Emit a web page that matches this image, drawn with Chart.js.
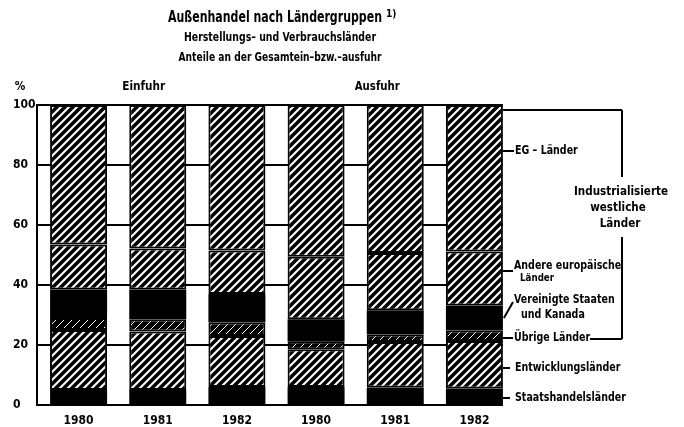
<!DOCTYPE html>
<html lang="de">
<head>
<meta charset="utf-8">
<title>Außenhandel nach Ländergruppen</title>
<script src="https://cdn.jsdelivr.net/npm/chart.js@4.4.1/dist/chart.umd.min.js"></script>
<style>
  html, body { margin: 0; padding: 0; background: #fff; }
</style>
</head>
<body>
<canvas id="tradeChart" width="684" height="427"></canvas>
<script>
// categories: three years of imports (Einfuhr), then three of exports (Ausfuhr)
const years = ['1980', '1981', '1982', '1980', '1981', '1982'];
const yTicks = [0, 20, 40, 60, 80, 100];

// shares in % of total imports / exports, stacked from the bottom up
const staatshandel = [5.0, 5.0, 6.0, 6.0, 5.8, 5.5];
const entwicklung  = [20.0, 19.5, 17.0, 12.6, 15.2, 15.8];
const uebrige      = [4.0, 4.0, 4.5, 2.5, 2.5, 3.5];
const usaKanada    = [9.5, 10.0, 9.5, 7.5, 8.1, 8.4];
const andereEuropa = [15.0, 13.7, 14.5, 20.8, 19.1, 18.0];
const egLaender    = [46.5, 47.8, 48.5, 50.6, 49.3, 48.8];

const FONT = "'Liberation Sans Narrow', 'DejaVu Sans Condensed', 'Liberation Sans', sans-serif";

const canvas = document.getElementById('tradeChart');
const ctx = canvas.getContext('2d');

// black ground with white "/" stripes, like the printed hatching
function makeHatch(gap, lineW) {
    const c = document.createElement('canvas');
    c.width = gap;
    c.height = gap;
    const g = c.getContext('2d');
    g.fillStyle = '#000';
    g.fillRect(0, 0, gap, gap);
    g.strokeStyle = '#fff';
    g.lineWidth = lineW;
    g.beginPath();
    g.moveTo(0, gap); g.lineTo(gap, 0);
    g.moveTo(-gap / 2, gap / 2); g.lineTo(gap / 2, -gap / 2);
    g.moveTo(gap / 2, gap * 1.5); g.lineTo(gap * 1.5, gap / 2);
    g.stroke();
    return ctx.createPattern(c, 'repeat');
}

const hatch = makeHatch(8, 2.1);
const sparseHatch = makeHatch(8, 1);

function line(c, x1, y1, x2, y2) {
    c.beginPath();
    c.moveTo(x1, y1);
    c.lineTo(x2, y2);
    c.stroke();
}

// bold text, squeezed horizontally to look like the condensed print type
function text(c, str, x, y, size, squeeze, align) {
    c.font = 'bold ' + size + 'px ' + FONT;
    c.save();
    c.translate(x, y);
    c.scale(squeeze, 1);
    c.textAlign = align || 'left';
    c.fillText(str, 0, 0);
    c.restore();
}

// same, but squeezed to a given printed width
function fitText(c, str, x, y, size, width, align) {
    c.font = 'bold ' + size + 'px ' + FONT;
    text(c, str, x, y, size, Math.min(1, width / c.measureText(str).width), align);
}

function lastBarRight(chart) {
    const bar = chart.getDatasetMeta(0).data[years.length - 1];
    return bar.x + bar.width / 2;
}

const decorations = {
    id: 'decorations',
    beforeDatasetsDraw(chart) {
        const { ctx, chartArea, scales: { y } } = chart;
        const right = lastBarRight(chart);
        const axisX = chartArea.left - 2;
        ctx.save();
        ctx.strokeStyle = '#000';
        ctx.lineWidth = 2;
        yTicks.forEach(v => {
            const py = Math.round(y.getPixelForValue(v));
            line(ctx, axisX - 1, py, right, py);
        });
        line(ctx, axisX, chartArea.top - 1, axisX, chartArea.bottom + 1);
        ctx.restore();
    },
    afterDraw(chart) {
        const { ctx, scales: { x } } = chart;
        const r = lastBarRight(chart);
        ctx.save();
        ctx.fillStyle = '#000';
        ctx.strokeStyle = '#000';
        ctx.textBaseline = 'middle';

        // titles
        fitText(ctx, 'Außenhandel nach Ländergruppen', 168, 18, 15, 214);
        fitText(ctx, '1)', 386, 14, 10, 11);
        fitText(ctx, 'Herstellungs– und Verbrauchsländer', 280, 38, 12, 192, 'center');
        fitText(ctx, 'Anteile an der Gesamtein–bzw.–ausfuhr', 280, 58, 12, 203, 'center');

        text(ctx, '%', 20, 87, 13, 0.9, 'center');
        fitText(ctx, 'Einfuhr', x.getPixelForValue(1) - 14, 87, 13, 43, 'center');
        fitText(ctx, 'Ausfuhr', x.getPixelForValue(4) - 18, 87, 13, 45, 'center');

        // series labels with leader lines
        const k = 0.88;
        ctx.lineWidth = 2;
        line(ctx, r, 151, 514, 151);
        text(ctx, 'EG – Länder', 515, 151, 12, k);
        line(ctx, r, 271, 513, 271);
        text(ctx, 'Andere europäische', 514, 266, 12, k);
        text(ctx, 'Länder', 520, 278, 11, k);
        line(ctx, r + 1, 318, 513, 302);
        text(ctx, 'Vereinigte Staaten', 514, 300, 12, k);
        text(ctx, 'und Kanada', 521, 315, 12, k);
        line(ctx, r, 338, 513, 338);
        text(ctx, 'Übrige Länder', 514, 338, 12, k);
        line(ctx, r, 368, 510, 368);
        text(ctx, 'Entwicklungsländer', 515, 368, 12, k);
        line(ctx, r, 398, 510, 398);
        text(ctx, 'Staatshandelsländer', 515, 398, 12, k);

        // bracket for the western industrial countries
        line(ctx, r, 110, 622, 110);
        line(ctx, 622, 110, 622, 177);
        line(ctx, 622, 237, 622, 339);
        line(ctx, 590, 339, 622, 339);
        text(ctx, 'Industrialisierte', 621, 192, 13, 0.89, 'center');
        text(ctx, 'westliche', 618, 208, 13, 0.89, 'center');
        text(ctx, 'Länder', 620, 224, 13, 0.89, 'center');
        ctx.restore();
    }
};

function segment(label, data, fill, framed) {
    return {
        label: label,
        data: data,
        backgroundColor: fill,
        borderColor: '#000',
        borderWidth: framed ? 2 : 0,
        borderSkipped: false,
        barPercentage: 0.72,
        categoryPercentage: 1.0
    };
}

new Chart(ctx, {
    type: 'bar',
    data: {
        labels: years,
        datasets: [
            segment('Staatshandelsländer', staatshandel, '#000', false),
            segment('Entwicklungsländer', entwicklung, hatch, true),
            segment('Übrige Länder', uebrige, sparseHatch, true),
            segment('Vereinigte Staaten und Kanada', usaKanada, '#000', false),
            segment('Andere europäische Länder', andereEuropa, hatch, true),
            segment('EG – Länder', egLaender, hatch, true)
        ]
    },
    options: {
        responsive: false,
        animation: false,
        devicePixelRatio: 1,
        layout: {
            padding: { top: 105, left: 13, right: 170, bottom: 0 }
        },
        plugins: {
            legend: { display: false },
            tooltip: { enabled: false },
            title: { display: false }
        },
        scales: {
            x: {
                stacked: true,
                grid: { display: false, drawTicks: false },
                border: { display: false },
                ticks: {
                    color: '#000',
                    font: { family: FONT, size: 12, weight: 'bold' },
                    padding: 9
                },
                afterFit: s => { s.height = 22; }
            },
            y: {
                stacked: true,
                min: 0,
                max: 100,
                grid: { display: false, drawTicks: false },
                border: { display: false },
                ticks: {
                    stepSize: 20,
                    color: '#000',
                    crossAlign: 'far',
                    font: { family: FONT, size: 12, weight: 'bold' }
                },
                afterFit: s => { s.width = 26; }
            }
        }
    },
    plugins: [decorations]
});
</script>
</body>
</html>
